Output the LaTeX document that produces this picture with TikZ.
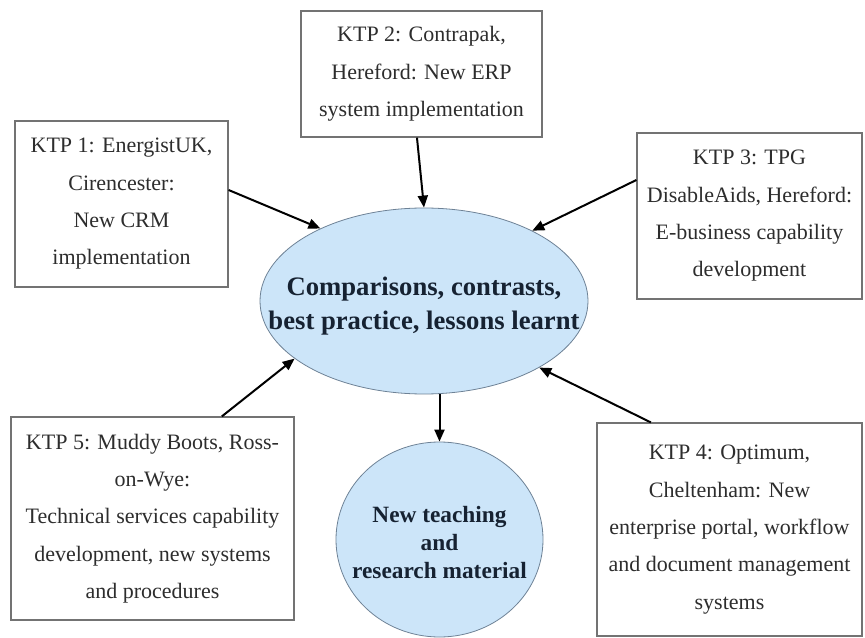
\documentclass[tikz,border=0pt]{standalone}
\usepackage{fontspec}
\setmainfont{Liberation Serif}
\usetikzlibrary{arrows.meta,shapes.geometric}
\definecolor{bubble}{RGB}{204,229,249}
\definecolor{bubbleline}{RGB}{110,130,150}
\definecolor{boxline}{RGB}{115,115,115}
\definecolor{boxtext}{RGB}{45,45,45}
\definecolor{boldtext}{RGB}{22,34,50}
\tikzset{
  ktpbox/.style={draw=boxline, line width=0.9pt, rectangle, inner sep=0pt, align=center,
    text=boxtext, font=\fontsize{16.5}{28}\selectfont},
  bubblenode/.style={ellipse, draw=bubbleline, line width=0.6pt, fill=bubble, inner sep=0pt},
  bubbletext/.style={inner sep=0pt, align=center, text=boldtext},
  arr/.style={line width=1.5pt, -{Triangle[length=9pt,width=7.5pt]}}
}
\begin{document}
\begin{tikzpicture}[x=0.75pt,y=-0.75pt]
\useasboundingbox (0,0) rectangle (865,638);
\fill[white] (0,0) rectangle (865,638);
% boxes
\node[ktpbox, minimum width=213*0.75pt, minimum height=166*0.75pt] (k1) at (121.5,204)
  {KTP 1: EnergistUK,\\Cirencester:\\New CRM\\implementation};
\node[ktpbox, minimum width=241*0.75pt, minimum height=126*0.75pt] (k2) at (421.5,74)
  {KTP 2: Contrapak,\\Hereford: New ERP\\system implementation};
\node[ktpbox, minimum width=225*0.75pt, minimum height=166*0.75pt] (k3) at (749.5,216)
  {KTP 3: TPG\\DisableAids, Hereford:\\E-business capability\\development};
\node[ktpbox, minimum width=283*0.75pt, minimum height=203*0.75pt] (k5) at (152.5,518.5)
  {KTP 5: Muddy Boots, Ross-\\on-Wye:\\Technical services capability\\development, new systems\\and procedures};
\node[ktpbox, minimum width=265*0.75pt, minimum height=213*0.75pt] (k4) at (729.5,529.5)
  {KTP 4: Optimum,\\Cheltenham: New\\enterprise portal, workflow\\and document management\\systems};
% central ellipse
\node[bubblenode, minimum width=328*0.75pt, minimum height=186*0.75pt] (c) at (424,301) {};
\node[bubbletext, font=\bfseries\fontsize{20}{25.5}\selectfont] (ct) at ([yshift=-3.5pt]c.center)
  {Comparisons, contrasts,\\best practice, lessons learnt};
% output circle
\node[bubblenode, minimum width=207*0.75pt, minimum height=195*0.75pt] (r) at (439.5,539.5) {};
\node[bubbletext, font=\bfseries\fontsize{17.5}{21}\selectfont] (rt) at ([yshift=-2pt]r.center)
  {New teaching\\and\\research material};
% connectors
\draw[arr] ([yshift=10.5pt]k1.east) -- (c.145.6);
\draw[arr] ([xshift=-3.4pt]k2.south) -- (c.north);
\draw[arr] ([yshift=27pt]k3.west) -- (c.33.4);
\draw[arr] ([xshift=52pt]k5.north) -- (c.204.6);
\draw[arr] ([xshift=-59pt]k4.north) -- (c.330.6);
\draw[arr] (r.north |- c.south) -- (r.north);
\end{tikzpicture}
\end{document}
